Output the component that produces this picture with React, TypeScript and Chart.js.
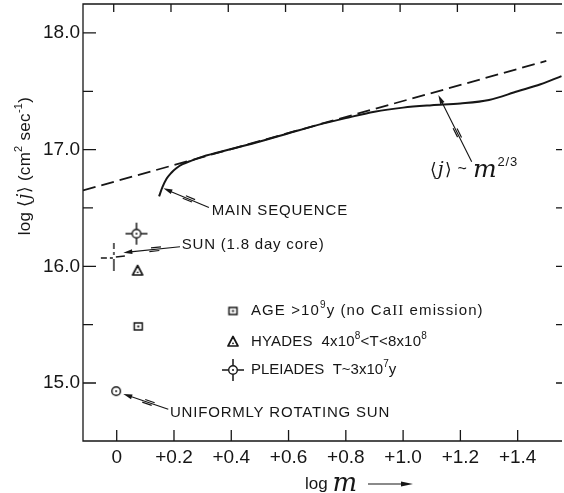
import React, { useEffect, useRef } from "react";
import { Chart, registerables } from "chart.js";
Chart.register(...registerables);

// ---- axis data ----
const xTicks = [0, 0.2, 0.4, 0.6, 0.8, 1.0, 1.2, 1.4];
const yTicks = [15, 16, 17, 18];
const yMinorTicks = [15.5, 16.5, 17.5];
const xRange = [-0.1177, 1.5548];
const yRange = [14.503, 18.248];

// ---- series data ----
const asymptoteX = [-0.1177, 1.5];
const asymptoteY = [16.65, 17.76];

const mainSeqX = [0.148, 0.16, 0.174, 0.19, 0.208, 0.23, 0.255, 0.3, 0.4, 0.5, 0.6, 0.7, 0.8, 0.9, 1.0, 1.1, 1.2, 1.3, 1.4, 1.48, 1.553];
const mainSeqY = [16.6, 16.68, 16.75, 16.8, 16.84, 16.875, 16.9, 16.94, 17.005, 17.07, 17.14, 17.21, 17.27, 17.325, 17.36, 17.38, 17.395, 17.425, 17.5, 17.56, 17.63];

const pleiadesX = [0.069];
const pleiadesY = [16.28];
const sunCoreX = [-0.01];
const sunCoreY = [16.08];
const hyadesX = [0.073];
const hyadesY = [15.96];
const oldStarsX = [0.075];
const oldStarsY = [15.485];
const uniformSunX = [-0.002];
const uniformSunY = [14.93];

const SANS = "'Liberation Sans', Arial, sans-serif";
const INK = "#161616";

type Seg = { t: string; font?: string; dy?: number };

const f = (size: number) => `${size}px ${SANS}`;
const sup = (t: string, size = 10): Seg => ({ t, font: f(size), dy: -6 });
const ital = (t: string, size = 19): Seg => ({ t, font: `italic ${size}px 'DejaVu Serif', serif` });

// annotations (text + arrow), anchored in data coordinates
const annotations: { segs: Seg[]; tx: number; ty: number; tail?: [number, number]; tip?: [number, number]; spacing: number }[] = [
  { segs: [{ t: "MAIN SEQUENCE" }], tx: 0.3316, ty: 16.474, tail: [0.322, 16.505], tip: [0.163, 16.668], spacing: 0.8 },
  { segs: [{ t: "SUN (1.8 day core)" }], tx: 0.227, ty: 16.183, tail: [0.221, 16.168], tip: [0.023, 16.117], spacing: 0.8 },
  { segs: [{ t: "UNIFORMLY ROTATING SUN" }], tx: 0.186, ty: 14.743, tail: [0.18, 14.775], tip: [0.023, 14.906], spacing: 0.8 },
  {
    segs: [{ t: "⟨", font: f(17) }, ital("j", 19), { t: "⟩", font: f(17) }, { t: " ~ ", font: f(16) }, ital("m", 25), { t: "2/3", font: f(13), dy: -8 }],
    tx: 1.094, ty: 16.825, tail: [1.2395, 16.896], tip: [1.123, 17.468], spacing: 0.8,
  },
];

// legend rows (pixel layout)
const legendRows: { sym: string; segs: Seg[]; spacing: number }[] = [
  { sym: "square", segs: [{ t: "AGE >10" }, sup("9"), { t: "y (no Ca" }, { t: "II", font: `15px 'Liberation Serif', serif` }, { t: " emission)" }], spacing: 1.1 },
  { sym: "triangle", segs: [{ t: "HYADES  4x10" }, sup("8"), { t: "<T<8x10" }, sup("8")], spacing: 0.2 },
  { sym: "pleiades", segs: [{ t: "PLEIADES  T~3x10" }, sup("7"), { t: "y" }], spacing: 0 },
];

function makeSymbol(w: number, h: number, draw: (c: CanvasRenderingContext2D) => void) {
  const cv = document.createElement("canvas");
  cv.width = w;
  cv.height = h;
  const c = cv.getContext("2d")!;
  c.strokeStyle = INK;
  c.fillStyle = INK;
  draw(c);
  return cv;
}

function circleDot(c: CanvasRenderingContext2D, x: number, y: number) {
  c.lineWidth = 1.4;
  c.beginPath();
  c.arc(x, y, 4.3, 0, Math.PI * 2);
  c.stroke();
  c.beginPath();
  c.arc(x, y, 1, 0, Math.PI * 2);
  c.fill();
}

function buildSymbols() {
  const pleiades = makeSymbol(26, 26, (c) => {
    circleDot(c, 13, 13);
    c.lineWidth = 1.5;
    c.beginPath();
    c.moveTo(13, 2); c.lineTo(13, 8.5);
    c.moveTo(13, 17.5); c.lineTo(13, 24);
    c.moveTo(2, 13); c.lineTo(8.5, 13);
    c.moveTo(17.5, 13); c.lineTo(24, 13);
    c.stroke();
  });
  const sun = makeSymbol(30, 32, (c) => {
    c.lineWidth = 1.4;
    c.beginPath();
    c.moveTo(15, 2); c.lineTo(15, 8);
    c.moveTo(15, 11); c.lineTo(15, 14);
    c.moveTo(15, 18); c.lineTo(15, 30);
    c.moveTo(2, 17); c.lineTo(8, 17);
    c.moveTo(11, 17); c.lineTo(14, 17);
    c.moveTo(17, 16); c.lineTo(26, 15);
    c.stroke();
  });
  const triangle = makeSymbol(16, 16, (c) => {
    c.lineWidth = 1.7;
    c.lineJoin = "round";
    c.beginPath();
    c.moveTo(8, 2.5); c.lineTo(13, 12); c.lineTo(3, 12); c.closePath();
    c.stroke();
    c.beginPath();
    c.arc(8, 9.3, 0.9, 0, Math.PI * 2);
    c.fill();
  });
  const square = makeSymbol(13, 13, (c) => {
    c.lineWidth = 1.5;
    c.strokeRect(2.5, 3, 8, 7);
    c.fillRect(5.5, 5.5, 2, 2);
  });
  const uniform = makeSymbol(14, 14, (c) => circleDot(c, 7, 7));
  return { pleiades, sun, triangle, square, uniform } as Record<string, HTMLCanvasElement>;
}

function drawRich(ctx: CanvasRenderingContext2D, x: number, y: number, segs: Seg[], spacing: number, align: "left" | "center" = "left") {
  const base = f(15);
  (ctx as any).letterSpacing = `${spacing}px`;
  ctx.textBaseline = "middle";
  ctx.textAlign = "left";
  const widths = segs.map((s) => {
    ctx.font = s.font || base;
    return ctx.measureText(s.t).width;
  });
  const total = widths.reduce((a, b) => a + b, 0);
  let cx = align === "center" ? x - total / 2 : x;
  segs.forEach((s, i) => {
    ctx.font = s.font || base;
    ctx.fillText(s.t, cx, y + (s.dy || 0));
    cx += widths[i];
  });
  (ctx as any).letterSpacing = "0px";
}

function drawArrow(ctx: CanvasRenderingContext2D, x1: number, y1: number, x2: number, y2: number) {
  const dx = x2 - x1, dy = y2 - y1;
  const len = Math.hypot(dx, dy);
  const ux = dx / len, uy = dy / len;
  const px = -uy, py = ux;
  const head = 9, hw = 2.4;
  ctx.lineWidth = 1.1;
  ctx.beginPath();
  ctx.moveTo(x1, y1);
  ctx.lineTo(x2 - ux * head * 0.8, y2 - uy * head * 0.8);
  ctx.stroke();
  // small break mark mid-line
  const mx = x1 + dx * 0.42, my = y1 + dy * 0.42;
  ctx.lineWidth = 1.2;
  ctx.beginPath();
  ctx.moveTo(mx - ux * 5 + px * 1.8, my - uy * 5 + py * 1.8);
  ctx.lineTo(mx + ux * 5 + px * 1.8, my + uy * 5 + py * 1.8);
  ctx.moveTo(mx - ux * 3 - px * 1.6, my - uy * 3 - py * 1.6);
  ctx.lineTo(mx + ux * 7 - px * 1.6, my + uy * 7 - py * 1.6);
  ctx.stroke();
  ctx.beginPath();
  ctx.moveTo(x2, y2);
  ctx.lineTo(x2 - ux * head + px * hw, y2 - uy * head + py * hw);
  ctx.lineTo(x2 - ux * head - px * hw, y2 - uy * head - py * hw);
  ctx.closePath();
  ctx.fill();
}

export default function App() {
  const ref = useRef<HTMLCanvasElement>(null);

  useEffect(() => {
    const canvas = ref.current!;
    const sym = buildSymbols();

    const pts = (xs: number[], ys: number[]) => xs.map((x, i) => ({ x, y: ys[i] }));

    const overlay = {
      id: "overlay",
      afterDatasetsDraw(chart: any) {
        const ctx: CanvasRenderingContext2D = chart.ctx;
        const xs = chart.scales.x, ys = chart.scales.y;
        const a = chart.chartArea;
        ctx.save();
        ctx.strokeStyle = INK;
        ctx.fillStyle = INK;
        // frame
        ctx.lineWidth = 1.3;
        ctx.beginPath();
        ctx.moveTo(a.right, a.top);
        ctx.lineTo(a.left, a.top);
        ctx.lineTo(a.left, a.bottom);
        ctx.lineTo(a.right, a.bottom);
        ctx.stroke();
        // ticks (inward)
        ctx.lineWidth = 1.3;
        ctx.beginPath();
        xTicks.forEach((v) => {
          const px = xs.getPixelForValue(v);
          ctx.moveTo(px, a.bottom); ctx.lineTo(px, a.bottom - 11);
          ctx.moveTo(px - 3, a.top); ctx.lineTo(px - 3, a.top + 8);
        });
        yTicks.forEach((v) => {
          const py = ys.getPixelForValue(v);
          ctx.moveTo(a.left, py); ctx.lineTo(a.left + 13, py);
          ctx.moveTo(a.right, py); ctx.lineTo(a.right - 6, py);
        });
        yMinorTicks.forEach((v) => {
          const py = ys.getPixelForValue(v);
          ctx.moveTo(a.left, py); ctx.lineTo(a.left + 10, py);
          ctx.moveTo(a.right, py); ctx.lineTo(a.right - 6, py);
        });
        ctx.stroke();

        // annotations
        annotations.forEach((an) => {
          drawRich(ctx, xs.getPixelForValue(an.tx), ys.getPixelForValue(an.ty), an.segs, an.spacing);
          if (an.tail && an.tip) {
            drawArrow(ctx, xs.getPixelForValue(an.tail[0]), ys.getPixelForValue(an.tail[1]), xs.getPixelForValue(an.tip[0]), ys.getPixelForValue(an.tip[1]));
          }
        });

        // legend
        const lx = 233, tx = 251, rowY = [311, 342, 370];
        legendRows.forEach((r, i) => {
          const s = sym[r.sym];
          ctx.drawImage(s, lx - s.width / 2, rowY[i] - s.height / 2);
          drawRich(ctx, tx, rowY[i], r.segs, r.spacing);
        });

        // y-axis title
        ctx.save();
        ctx.translate(25, 166);
        ctx.rotate(-Math.PI / 2);
        drawRich(ctx, 0, 0, [
          { t: "log ", font: f(17) },
          { t: "⟨", font: f(17) },
          ital("j", 18),
          { t: "⟩", font: f(17) },
          { t: " (cm", font: f(17) },
          sup("2", 11),
          { t: " sec", font: f(17) },
          sup("-1", 11),
          { t: ")", font: f(17) },
        ], 0.3, "center");
        ctx.restore();

        // x-axis title
        drawRich(ctx, 305, 484, [{ t: "log ", font: f(17) }, ital("m", 26)], 0);
        ctx.lineWidth = 1.1;
        ctx.beginPath();
        ctx.moveTo(368, 484); ctx.lineTo(404, 484);
        ctx.stroke();
        ctx.beginPath();
        ctx.moveTo(413, 484); ctx.lineTo(401, 481.5); ctx.lineTo(401, 486.5); ctx.closePath();
        ctx.fill();
        ctx.restore();
      },
    };

    const zeroPad = (s: any) => {
      s.paddingTop = 0;
      s.paddingBottom = 0;
      s.paddingLeft = 0;
      s.paddingRight = 0;
    };

    const chart = new Chart(canvas, {
      type: "scatter",
      data: {
        datasets: [
          { label: "m^(2/3)", data: pts(asymptoteX, asymptoteY), showLine: true, pointRadius: 0, borderColor: INK, borderWidth: 1.8, borderDash: [13, 6] },
          { label: "Main sequence", data: pts(mainSeqX, mainSeqY), showLine: true, pointRadius: 0, borderColor: INK, borderWidth: 2, cubicInterpolationMode: "monotone" },
          { label: "Pleiades", data: pts(pleiadesX, pleiadesY), pointStyle: sym.pleiades as any, pointRadius: 10 },
          { label: "Sun (1.8 day core)", data: pts(sunCoreX, sunCoreY), pointStyle: sym.sun as any, pointRadius: 10 },
          { label: "Hyades", data: pts(hyadesX, hyadesY), pointStyle: sym.triangle as any, pointRadius: 8 },
          { label: "Age > 1e9 y", data: pts(oldStarsX, oldStarsY), pointStyle: sym.square as any, pointRadius: 6 },
          { label: "Uniformly rotating Sun", data: pts(uniformSunX, uniformSunY), pointStyle: sym.uniform as any, pointRadius: 7 },
        ],
      },
      options: {
        animation: false,
        responsive: false,
        devicePixelRatio: 1,
        layout: { autoPadding: false, padding: { top: 4, right: 2, left: 0, bottom: 0 } },
        plugins: { legend: { display: false }, tooltip: { enabled: false } },
        scales: {
          x: {
            type: "linear",
            min: xRange[0],
            max: xRange[1],
            grid: { display: false, drawTicks: false },
            border: { display: false },
            ticks: {
              color: INK,
              font: { size: 19, family: SANS },
              padding: 5,
              autoSkip: false,
              maxRotation: 0,
              callback: (v: any) => (Math.abs(v) < 1e-9 ? "0" : "+" + Number(v).toFixed(1)),
            },
            afterBuildTicks: (s: any) => { s.ticks = xTicks.map((v) => ({ value: v })); },
            afterFit: (s: any) => { s.height = 52; zeroPad(s); },
          },
          y: {
            type: "linear",
            min: yRange[0],
            max: yRange[1],
            grid: { display: false, drawTicks: false },
            border: { display: false },
            ticks: {
              color: INK,
              font: { size: 19, family: SANS },
              padding: 3,
              autoSkip: false,
              callback: (v: any) => Number(v).toFixed(1),
            },
            afterBuildTicks: (s: any) => { s.ticks = yTicks.map((v) => ({ value: v })); },
            afterFit: (s: any) => { s.width = 83; zeroPad(s); },
          },
        },
      },
      plugins: [overlay],
    } as any);

    return () => chart.destroy();
  }, []);

  return (
    <div style={{ position: "fixed", left: 0, top: 0, width: 564, height: 493, background: "#fff" }}>
      <canvas ref={ref} width={564} height={493} style={{ display: "block", width: 564, height: 493 }} />
    </div>
  );
}
